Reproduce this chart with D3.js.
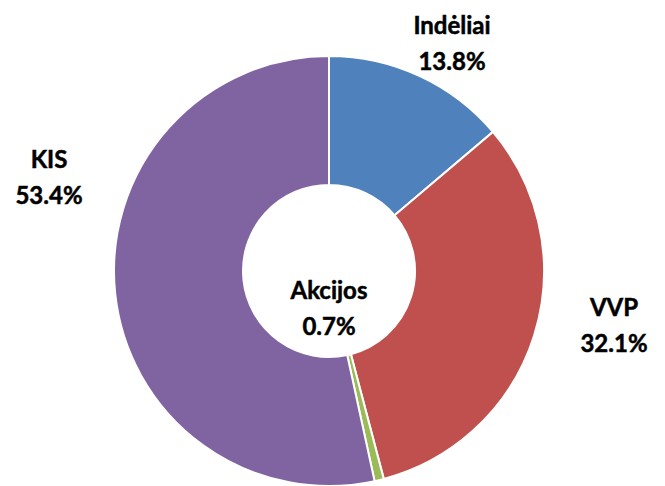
<!DOCTYPE html>
<meta charset="utf-8">
<head>
	<title>Donut</title>
</head>
<style>
body{ margin:0; background:#fff; }
svg{ display:block; }
.lbl{ font-family: Lato, "Open Sans", sans-serif; font-weight:bold; font-size:24px; fill:#000; stroke:#000; stroke-width:0.5px; text-anchor:middle; }
</style>
<body>
<svg width="665" height="486"></svg>
<script src="https://cdnjs.cloudflare.com/ajax/libs/d3/7.8.5/d3.min.js"></script>
<script>

// data
var categories = ["Indėliai", "VVP", "Akcijos", "KIS"];
var shares = [13.8, 32.1, 0.7, 53.4];
var colors = ["#4F81BD", "#C0504D", "#9BBB59", "#8064A2"];

// label placement (x, y of first line)
var labelPos = [[452, 34], [614, 316], [329, 299], [49, 168]];

var svg = d3.select("svg");
var g = svg.append("g").attr("transform", "translate(329, 271)");

var pie = d3.pie().sort(null).value(function(d){ return d; });
var arc = d3.arc().innerRadius(86).outerRadius(215);

g.selectAll("path")
	.data(pie(shares))
	.enter().append("path")
	.attr("d", arc)
	.attr("fill", function(d, i){ return colors[i]; })
	.attr("stroke", "#fff")
	.attr("stroke-width", 2);

var lbl = svg.selectAll("text.lbl")
	.data(categories)
	.enter().append("text")
	.attr("class", "lbl")
	.attr("x", function(d, i){ return labelPos[i][0]; })
	.attr("y", function(d, i){ return labelPos[i][1]; });

lbl.append("tspan")
	.attr("x", function(d, i){ return labelPos[i][0]; })
	.text(function(d){ return d; });
lbl.append("tspan")
	.attr("x", function(d, i){ return labelPos[i][0]; })
	.attr("dy", 36)
	.text(function(d, i){ return shares[i].toFixed(1) + "%"; });

</script>
</body>
</html>
